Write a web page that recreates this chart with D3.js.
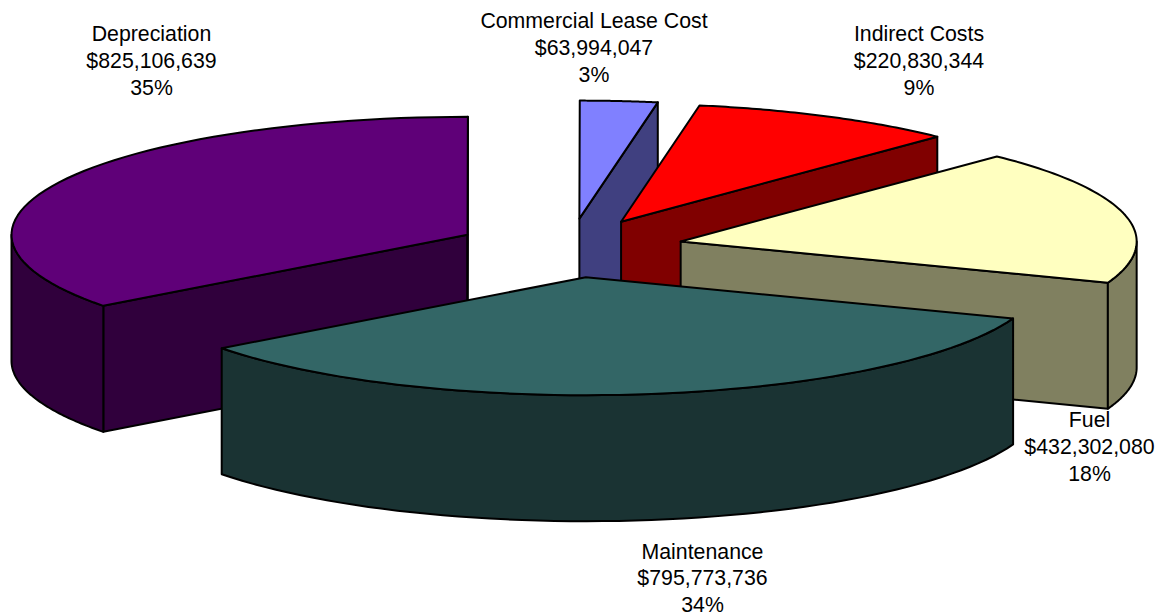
<!DOCTYPE html>
<html><head><meta charset="utf-8">
<script src="https://cdn.jsdelivr.net/npm/d3@7"></script>
<style>html,body{margin:0;padding:0;background:#fff}svg{display:block}text{font-family:"Liberation Sans",Arial,sans-serif;font-size:21.3px;fill:#000}</style>
</head><body><div id="c"></div>
<script>
const categories = ["Depreciation","Commercial Lease Cost","Indirect Costs","Fuel","Maintenance"];
const values = [825106639,63994047,220830344,432302080,795773736];
const percentLabels = ["35%","3%","9%","18%","34%"];
const topColors = ["#5F0078","#8080FF","#FF0000","#FFFFC0","#336666"];
const sideColors = ["#30003C","#404080","#800000","#808060","#1A3333"];
const labelX = [151.5,594,919,1089.5,702.5];
const labelY = [34,20.5,34,420,551.5];
const lineStep = [27,27,27,27,26.5];

const W=1158,H=616, cx=569.5, cy=248, rx=456, ry=118, depth=126, explode=0.25;
const svg=d3.select("#c").append("svg").attr("width",W).attr("height",H);
const px=d3.scaleLinear().domain([-1,1]).range([cx-rx,cx+rx]);
const py=d3.scaleLinear().domain([-1,1]).range([cy-ry,cy+ry]);
const rad=d=>d*Math.PI/180;
const pie=d3.pie().sort(null).startAngle(rad(233)).endAngle(rad(593));
const arcs=pie(values);
const line=d3.line();
const style=s=>s.attr("stroke","#000").attr("stroke-width",2).attr("stroke-linejoin","round");
const TAU=2*Math.PI;

arcs.forEach((a,i)=>{
  const t0=a.startAngle-Math.PI/2, t1=a.endAngle-Math.PI/2, mid=(t0+t1)/2;
  const ox=explode*Math.cos(mid), oy=explode*Math.sin(mid);
  const P=(r,t,dz=0)=>[px(ox+r*Math.cos(t)),py(oy+r*Math.sin(t))+dz];
  const arcPts=(u,v,dz=0)=>d3.range(0,61).map(k=>P(1,u+(v-u)*k/60,dz));
  const g=svg.append("g");
  const wall=t=>style(g.append("path").attr("fill",sideColors[i]).attr("d",line([P(0,t),P(1,t),P(1,t,depth),P(0,t,depth)])+"Z"));
  if(Math.cos(t0)<0) wall(t0);
  if(Math.cos(t1)>0) wall(t1);
  // visible outer rim: part of the arc on the near half of the ellipse
  for(let n=-1;n<=2;n++){
    const u=Math.max(t0,n*TAU), v=Math.min(t1,n*TAU+Math.PI);
    if(v>u) style(g.append("path").attr("fill",sideColors[i]).attr("d",line(arcPts(u,v).concat(arcPts(v,u,depth)))+"Z"));
  }
  style(g.append("path").attr("fill",topColors[i]).attr("d",line([P(0,t0),...arcPts(t0,t1)])+"Z"));
});

const fmt=d3.format("$,");
categories.forEach((c,i)=>{
  const t=svg.append("text").attr("text-anchor","middle");
  [c,fmt(values[i]),percentLabels[i]].forEach((s,k)=>{
    t.append("tspan").attr("x",labelX[i]).attr("y",labelY[i]+7+k*lineStep[i]).text(s);
  });
});
</script></body></html>
